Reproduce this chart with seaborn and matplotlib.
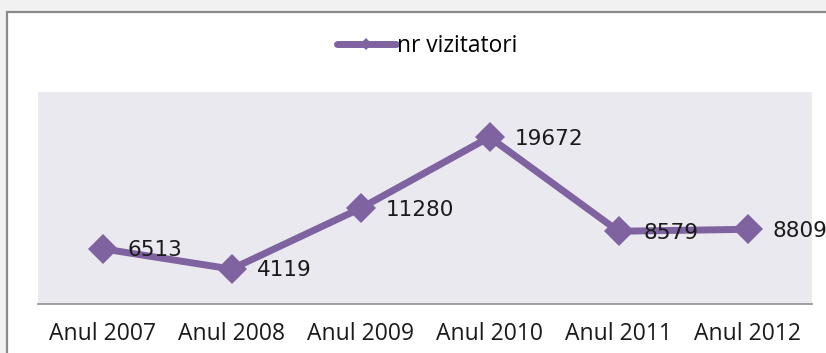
import matplotlib
matplotlib.use("Agg")
import matplotlib.pyplot as plt
from matplotlib.patches import Rectangle
from matplotlib.lines import Line2D
import seaborn as sns
import pandas as pd

years = ["Anul 2007", "Anul 2008", "Anul 2009", "Anul 2010", "Anul 2011", "Anul 2012"]
visitors = [6513, 4119, 11280, 19672, 8579, 8809]
series_name = "nr vizitatori"

PURPLE = "#7f63a1"
PLOT_BG = "#ebe9f0"

df = pd.DataFrame({"an": years, "vizitatori": visitors})

W, H = 826, 353
fig = plt.figure(figsize=(W / 100, H / 100), dpi=100)
fig.patch.set_facecolor("#f1f1f1")

# white chart frame with a gray border
frame = Rectangle((7 / W, -0.05), 1.1, 1 - 12.5 / H + 0.05, transform=fig.transFigure,
                  facecolor="white", edgecolor="#8a8a8a", linewidth=1.6, zorder=-5)
fig.patches.append(frame)

ax = fig.add_axes([38 / W, 1 - 304 / H, 774 / W, 212 / H])
ax.set_zorder(2)
ax.set_facecolor(PLOT_BG)

sns.lineplot(data=df, x="an", y="vizitatori", ax=ax, color=PURPLE, linewidth=5,
             marker="D", markersize=15, markeredgewidth=0, sort=False, legend=False)

ax.set_ylim(0, 25000)
ax.set_xlim(-0.5, len(years) - 0.5)
ax.set_xlabel("")
ax.set_ylabel("")
ax.set_yticks([])
ax.tick_params(axis="x", length=0, pad=13)
for lbl in ax.get_xticklabels():
    lbl.set_fontfamily("Open Sans")
    lbl.set_fontsize(16.5)
    lbl.set_color("#1a1a1a")
for side in ("top", "left", "right"):
    ax.spines[side].set_visible(False)
ax.spines["bottom"].set_color("#9a9a9a")
ax.spines["bottom"].set_linewidth(1.3)

for i, v in enumerate(visitors):
    ax.annotate(f"{v}", xy=(i, v), xytext=(18, -1), textcoords="offset points",
                ha="left", va="center", fontsize=15.5, family="DejaVu Sans",
                color="#1a1a1a", annotation_clip=False, zorder=5)

handle = Line2D([], [], color=PURPLE, linewidth=5, marker="D", markersize=6,
                markeredgewidth=0, solid_capstyle="round")
leg = fig.legend([handle], [series_name], loc="center", bbox_to_anchor=(427 / W, 1 - 46 / H),
                 frameon=False, handlelength=2.6, handletextpad=0.05,
                 prop={"family": "Open Sans", "size": 16.4})
leg.set_zorder(3)

fig.savefig("out.png", dpi=100, facecolor=fig.get_facecolor())
